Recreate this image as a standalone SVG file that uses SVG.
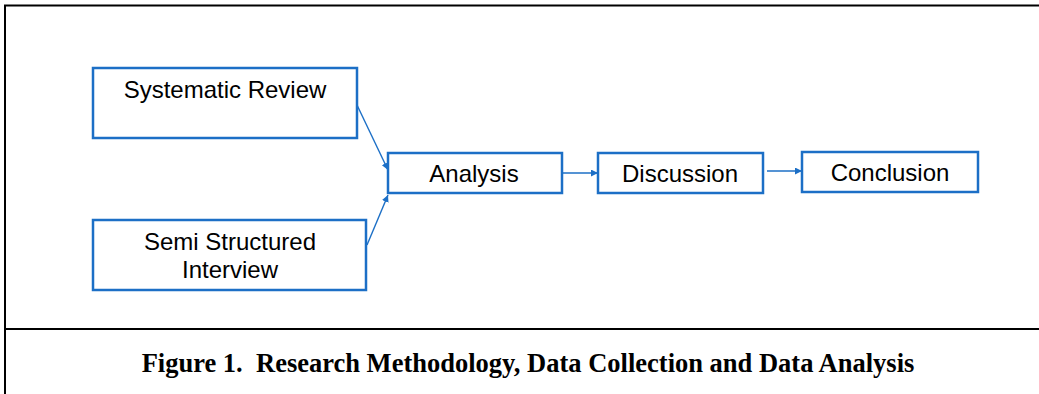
<svg xmlns="http://www.w3.org/2000/svg" width="1039" height="394" viewBox="0 0 1039 394">
<style>
.box{fill:#fff;stroke:#1c6fc6;stroke-width:2.5}
.lbl{font-family:"Liberation Sans",Arial,sans-serif;font-size:24px;fill:#000;text-anchor:middle}
.con{stroke:#1c6fc6;stroke-width:1.4;fill:none;marker-end:url(#ah)}
.frame{stroke:#000;stroke-width:2;fill:none}
.cap{font-family:"Liberation Serif","Times New Roman",serif;font-weight:bold;font-size:26.5px;text-anchor:middle;fill:#000;white-space:pre}
</style>
<defs>
<marker id="ah" viewBox="0 0 10 10" refX="10" refY="5" markerWidth="7" markerHeight="7" markerUnits="userSpaceOnUse" orient="auto">
<path d="M0,0 L10,5 L0,10 z" fill="#1c6fc6"/>
</marker>
</defs>
<rect width="1039" height="394" fill="#fff"/>
<g id="frame">
<path class="frame" d="M5,394 V5.5 H1039"/>
<path class="frame" d="M5,329 H1039"/>
</g>
<g id="connectors">
<line class="con" x1="357" y1="105" x2="388" y2="170"/>
<line class="con" x1="367" y1="245" x2="388" y2="195"/>
<line class="con" x1="562" y1="173" x2="598" y2="173"/>
<line class="con" x1="767" y1="171" x2="802" y2="171"/>
</g>
<g id="systematic-review">
<rect class="box" x="93" y="68" width="264" height="70"/>
<text class="lbl" x="225" y="98">Systematic Review</text>
</g>
<g id="semi-structured-interview">
<rect class="box" x="93" y="220" width="273" height="70"/>
<text class="lbl" x="230" y="250">Semi Structured</text>
<text class="lbl" x="230" y="278">Interview</text>
</g>
<g id="analysis">
<rect class="box" x="388" y="153" width="174" height="40"/>
<text class="lbl" x="474" y="182">Analysis</text>
</g>
<g id="discussion">
<rect class="box" x="598" y="153" width="165" height="40"/>
<text class="lbl" x="680" y="182">Discussion</text>
</g>
<g id="conclusion">
<rect class="box" x="802" y="152" width="176" height="40"/>
<text class="lbl" x="890" y="181">Conclusion</text>
</g>
<text class="cap" x="528" y="372" xml:space="preserve">Figure 1.  Research Methodology, Data Collection and Data Analysis</text>
</svg>
